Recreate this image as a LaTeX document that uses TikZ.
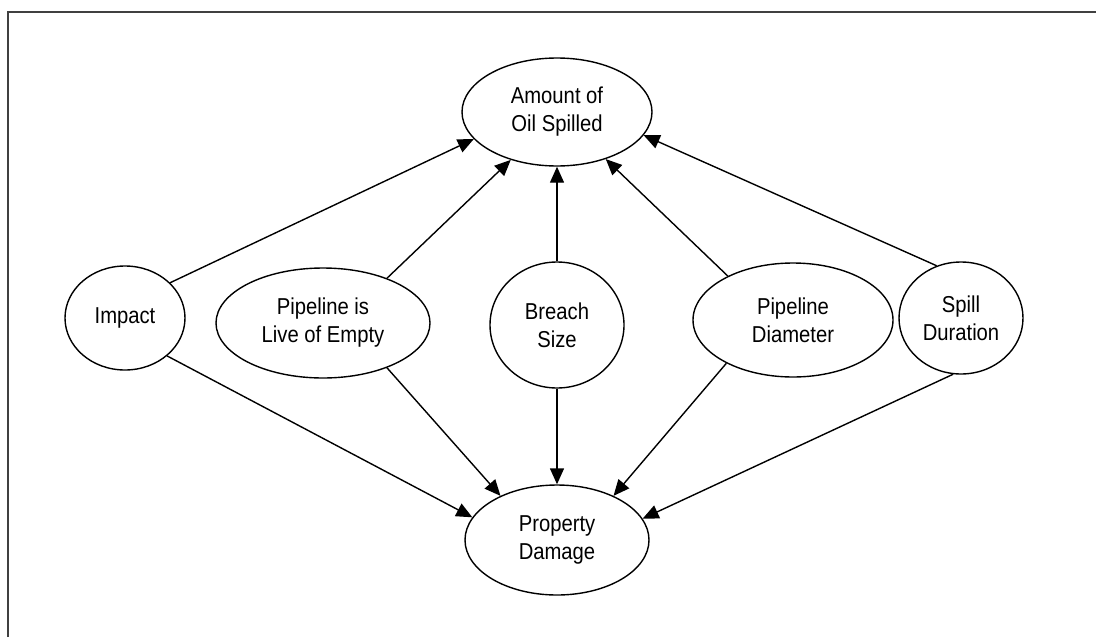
\documentclass[tikz,border=0pt]{standalone}
\usepackage{fontspec}
\setmainfont[FakeStretch=0.88]{Liberation Sans}
\usetikzlibrary{shapes.geometric,arrows.meta}
\begin{document}
\begin{tikzpicture}[x=0.5pt,y=-0.5pt,
  oval/.style={draw, ellipse, line width=0.7pt, inner sep=0pt, align=center,
    font=\fontsize{11.5pt}{14pt}\selectfont},
  link/.style={line width=0.7pt, -{Triangle[length=8pt,width=7pt]}},
  frame/.style={line width=1pt, draw=black!75}]
\useasboundingbox (0,0) rectangle (1096,637);
\draw[frame] (8,637) -- (8,12) -- (1096,12);

\node[oval, minimum width=95pt, minimum height=54pt] (amount) at (557,112) {Amount of\\Oil Spilled};
\node[oval, minimum width=92pt, minimum height=55pt] (damage) at (557,540) {Property\\Damage};
\node[oval, minimum width=60pt, minimum height=52pt] (impact) at (125,318) {Impact};
\node[oval, minimum width=107pt, minimum height=55pt] (live) at (323,323) {Pipeline is\\Live of Empty};
\node[oval, minimum width=67pt, minimum height=63pt] (breach) at (557,325) {Breach\\Size};
\node[oval, minimum width=100pt, minimum height=57pt] (diam) at (793,320) {Pipeline\\Diameter};
\node[oval, minimum width=62pt, minimum height=56pt] (spill) at (961,318) {Spill\\Duration};

\draw[link] (impact.38) -- (amount.198);
\draw[link] (impact.-42) -- (damage.165);
\draw[link] (live.35) -- (amount.226);
\draw[link] (live.-35) -- (damage.142);
\draw[link] (breach.90) -- (amount.270);
\draw[link] (breach.270) -- (damage.90);
\draw[link] (diam.146) -- (amount.316);
\draw[link] (diam.213) -- (damage.38);
\draw[link] (spill.115) -- (amount.-15);
\draw[link] (spill.262) -- (damage.14);
\end{tikzpicture}
\end{document}
